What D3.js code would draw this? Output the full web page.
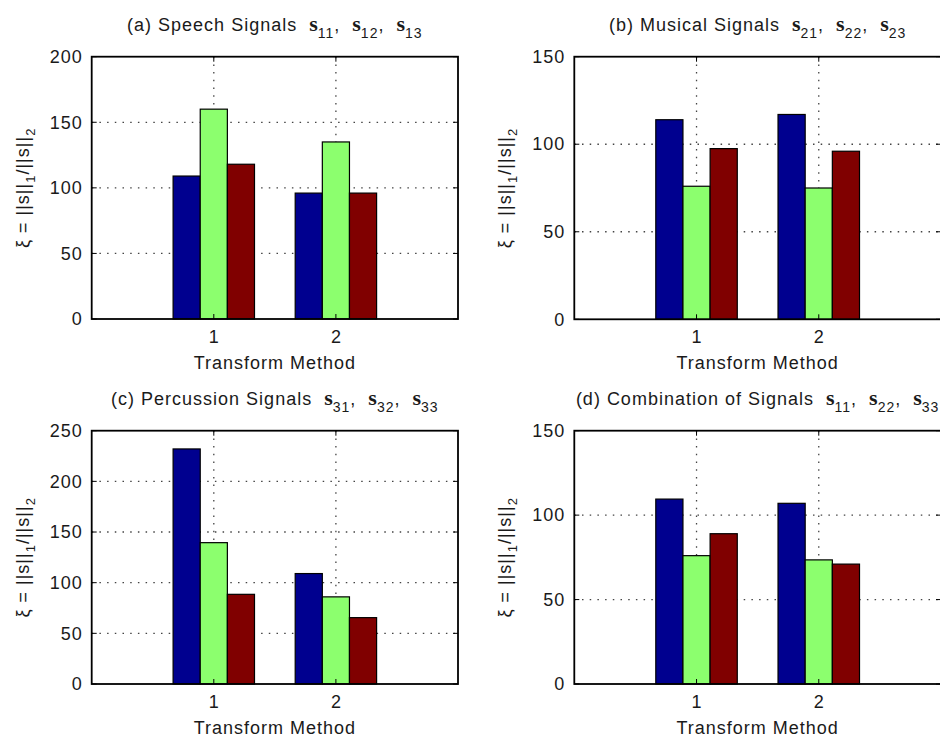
<!DOCTYPE html>
<html>
<head>
<meta charset="utf-8">
<script src="https://cdn.jsdelivr.net/npm/d3@7"></script>
<style>
  body { margin: 0; background: #fff; }
  text { font-family: "Liberation Sans", Arial, sans-serif; fill: #1a1a1a; }
</style>
</head>
<body>
<script>
// data: values per transform method, 3 signals each
var methods = [1, 2];
var speech = [[109, 160, 118], [96, 135, 96]];
var musical = [[114, 76, 97.5], [117, 75, 96]];
var percussion = [[232, 139.5, 88.5], [109, 86, 65.5]];
var combination = [[109.5, 76, 89], [107, 73.5, 71]];
var speechTicks = [0, 50, 100, 150, 200];
var musicalTicks = [0, 50, 100, 150];
var percussionTicks = [0, 50, 100, 150, 200, 250];
var combinationTicks = [0, 50, 100, 150];
var barColors = ["#00008f", "#8cff6e", "#800000"];

var w = 940, h = 738;
var svg = d3.select("body").append("svg")
  .attr("width", w)
  .attr("height", h);

var panels = [
  {data: speech, ticks: speechTicks, title: "(a) Speech Signals", subs: ["11", "12", "13"],
   left: 91.7, right: 458, top: 56.7, bottom: 319},
  {data: musical, ticks: musicalTicks, title: "(b) Musical Signals", subs: ["21", "22", "23"],
   left: 574.3, right: 941, top: 56.7, bottom: 319.3},
  {data: percussion, ticks: percussionTicks, title: "(c) Percussion Signals", subs: ["31", "32", "33"],
   left: 91.7, right: 458, top: 430.7, bottom: 684},
  {data: combination, ticks: combinationTicks, title: "(d) Combination of Signals", subs: ["11", "22", "33"],
   left: 574.3, right: 941, top: 430.7, bottom: 684}
];

var bw = 2 / 9; // width of one bar in x units

panels.forEach(function(p){
  var g = svg.append("g");
  var x = d3.scaleLinear().domain([0, 3]).range([p.left, p.right]);
  var y = d3.scaleLinear().domain([0, d3.max(p.ticks)]).range([p.bottom, p.top]);

  // dotted grid
  g.selectAll(".hgrid").data(p.ticks.slice(1, -1)).enter().append("line")
    .attr("x1", p.left).attr("x2", p.right)
    .attr("y1", function(d){ return y(d); }).attr("y2", function(d){ return y(d); })
    .attr("stroke", "#444").attr("stroke-width", 1.3)
    .attr("stroke-dasharray", "1.5,6.2");
  g.selectAll(".vgrid").data(methods).enter().append("line")
    .attr("x1", function(d){ return x(d); }).attr("x2", function(d){ return x(d); })
    .attr("y1", p.top).attr("y2", p.bottom)
    .attr("stroke", "#444").attr("stroke-width", 1.3)
    .attr("stroke-dasharray", "1.5,6.2");

  // bars
  var groups = g.selectAll(".grp").data(p.data).enter().append("g");
  groups.selectAll("rect").data(function(d, i){
      return d.map(function(v, k){ return {m: methods[i], k: k, v: v}; });
    })
    .enter().append("rect")
    .attr("x", function(d){ return x(d.m + (d.k - 1.5) * bw); })
    .attr("width", function(d){ return x(bw) - x(0); })
    .attr("y", function(d){ return y(d.v); })
    .attr("height", function(d){ return y(0) - y(d.v); })
    .attr("fill", function(d){ return barColors[d.k]; })
    .attr("stroke", "#000").attr("stroke-width", 1.2);

  // inner ticks
  p.ticks.forEach(function(t){
    g.append("line").attr("x1", p.left).attr("x2", p.left + 5)
      .attr("y1", y(t)).attr("y2", y(t)).attr("stroke", "#000");
    g.append("line").attr("x1", p.right).attr("x2", p.right - 5)
      .attr("y1", y(t)).attr("y2", y(t)).attr("stroke", "#000");
  });
  methods.forEach(function(m){
    g.append("line").attr("x1", x(m)).attr("x2", x(m))
      .attr("y1", p.bottom).attr("y2", p.bottom - 5).attr("stroke", "#000");
    g.append("line").attr("x1", x(m)).attr("x2", x(m))
      .attr("y1", p.top).attr("y2", p.top + 5).attr("stroke", "#000");
  });

  // box
  g.append("rect")
    .attr("x", p.left).attr("y", p.top)
    .attr("width", p.right - p.left).attr("height", p.bottom - p.top)
    .attr("fill", "none").attr("stroke", "#000").attr("stroke-width", 1.8);

  // axes labels
  var ya = g.append("g").attr("transform", "translate(" + p.left + ",0)")
    .call(d3.axisLeft(y).tickValues(p.ticks).tickSize(0).tickPadding(9).tickFormat(d3.format("d")));
  var xa = g.append("g").attr("transform", "translate(0," + p.bottom + ")")
    .call(d3.axisBottom(x).tickValues(methods).tickSize(0).tickPadding(11).tickFormat(d3.format("d")));
  [ya, xa].forEach(function(a){
    a.select(".domain").remove();
    a.selectAll("text").attr("font-size", 18).attr("letter-spacing", 1)
      .attr("font-family", "Liberation Sans, Arial, sans-serif").attr("fill", "#1a1a1a");
  });

  g.append("text")
    .attr("x", (p.left + p.right) / 2).attr("y", p.bottom + 50)
    .attr("text-anchor", "middle").attr("font-size", 18).attr("letter-spacing", 1)
    .text("Transform Method");

  // title with bold s and subscripts
  var t = g.append("text")
    .attr("x", (p.left + p.right) / 2).attr("y", p.top - 26)
    .attr("text-anchor", "middle").attr("font-size", 18).attr("letter-spacing", 1);
  t.append("tspan").text(p.title + "\u00a0\u00a0");
  p.subs.forEach(function(s, i){
    t.append("tspan").attr("font-family", "Liberation Serif, Times New Roman, serif")
      .attr("font-weight", "bold").attr("font-size", 22).attr("letter-spacing", 0).text("s");
    t.append("tspan").attr("font-size", 14).attr("dy", 7).text(s);
    if (i < p.subs.length - 1) t.append("tspan").attr("dy", -7).text(",\u00a0\u00a0");
  });

  // y label
  var cy = (p.top + p.bottom) / 2;
  var yl = g.append("text")
    .attr("transform", "translate(" + (p.left - 63) + "," + cy + ") rotate(-90)")
    .attr("text-anchor", "middle").attr("font-size", 18).attr("letter-spacing", 1);
  yl.append("tspan").text("\u03be = ||s||");
  yl.append("tspan").attr("font-size", 13).attr("dy", 6).text("1");
  yl.append("tspan").attr("dy", -6).text("/||s||");
  yl.append("tspan").attr("font-size", 13).attr("dy", 6).text("2");
});
</script>
</body>
</html>
